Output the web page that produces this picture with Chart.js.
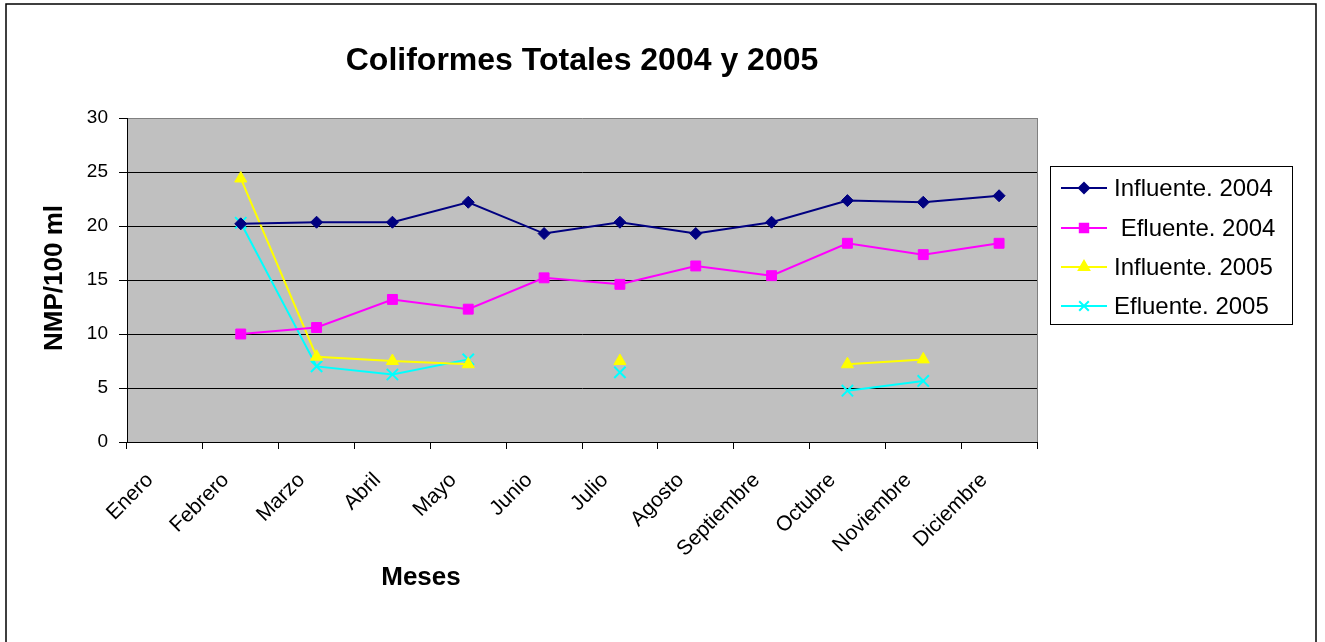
<!DOCTYPE html>
<html>
<head>
<meta charset="utf-8">
<script src="https://cdn.jsdelivr.net/npm/chart.js@4/dist/chart.umd.min.js"></script>
<style>
  html, body { margin: 0; padding: 0; background: #fff; }
  #wrap { position: relative; width: 1325px; height: 642px; }
</style>
</head>
<body>
<div id="wrap"><canvas id="chart" width="1325" height="642"></canvas></div>
<script>
// Data
const meses = ['Enero', 'Febrero', 'Marzo', 'Abril', 'Mayo', 'Junio', 'Julio',
    'Agosto', 'Septiembre', 'Octubre', 'Noviembre', 'Diciembre'];
const influente2004 = [null, 20.2, 20.35, 20.35, 22.2, 19.3, 20.35, 19.3, 20.35, 22.35, 22.2, 22.8];
const efluente2004 = [null, 10.0, 10.6, 13.2, 12.3, 15.2, 14.6, 16.3, 15.4, 18.4, 17.35, 18.4];
const influente2005 = [null, 24.4, 7.9, 7.5, 7.2, null, 7.5, null, null, 7.2, 7.65, null];
const efluente2005 = [null, 20.3, 7.0, 6.25, 7.65, null, 6.45, null, null, 4.75, 5.65, null];
const yTicks = [0, 5, 10, 15, 20, 25, 30];

const FONT = "'Liberation Sans', Arial, sans-serif";

const series = [
    { label: 'Influente. 2004', data: influente2004, color: '#000080', style: 'rectRot', radius: 6 },
    { label: ' Efluente. 2004', data: efluente2004, color: '#FF00FF', style: 'rect', radius: 7 },
    { label: 'Influente. 2005', data: influente2005, color: '#FFFF00', style: 'triangle', radius: 7 },
    { label: 'Efluente. 2005', data: efluente2005, color: '#00FFFF', style: 'crossRot', radius: 8 }
];

// Grey plot background, outer frame and hand-placed texts / legend
const decor = {
    id: 'decor',
    beforeDraw(chart) {
        const { ctx, chartArea: a } = chart;
        ctx.save();
        ctx.fillStyle = '#fff';
        ctx.fillRect(0, 0, chart.width, chart.height);
        ctx.fillStyle = '#C0C0C0';
        ctx.fillRect(a.left, a.top, a.right - a.left, a.bottom - a.top);
        ctx.restore();
    },
    afterDraw(chart) {
        const { ctx, chartArea: a } = chart;
        ctx.save();
        // plot area right border
        ctx.strokeStyle = '#808080';
        ctx.lineWidth = 1;
        ctx.beginPath();
        ctx.moveTo(a.right + 0.5, a.top);
        ctx.lineTo(a.right + 0.5, a.bottom);
        ctx.stroke();

        // outer frame
        ctx.strokeStyle = '#000';
        ctx.lineWidth = 1.5;
        ctx.beginPath();
        ctx.moveTo(6, 660);
        ctx.lineTo(6, 4);
        ctx.lineTo(1316, 4);
        ctx.lineTo(1316, 660);
        ctx.stroke();

        // title
        ctx.fillStyle = '#000';
        ctx.textAlign = 'center';
        ctx.textBaseline = 'middle';
        ctx.font = 'bold 32px ' + FONT;
        ctx.fillText('Coliformes Totales 2004 y 2005', (a.left + a.right) / 2, 61);

        // axis titles
        ctx.font = 'bold 26px ' + FONT;
        ctx.fillText('Meses', 421, 578);
        ctx.save();
        ctx.translate(55, 278);
        ctx.rotate(-Math.PI / 2);
        ctx.fillText('NMP/100 ml', 0, 0);
        ctx.restore();

        // legend
        const lx = 1050, ly = 166, lw = 242, lh = 158;
        ctx.fillStyle = '#fff';
        ctx.fillRect(lx, ly, lw, lh);
        ctx.strokeStyle = '#000';
        ctx.lineWidth = 1;
        ctx.strokeRect(lx + 0.5, ly + 0.5, lw, lh);
        const rows = [188, 228, 267, 306];
        ctx.font = '24px ' + FONT;
        ctx.textAlign = 'left';
        series.forEach((s, i) => {
            const y = rows[i];
            ctx.strokeStyle = s.color;
            ctx.lineWidth = 2;
            ctx.beginPath();
            ctx.moveTo(1061, y);
            ctx.lineTo(1107, y);
            ctx.stroke();
            ctx.fillStyle = s.color;
            Chart.helpers.drawPoint(ctx, {
                pointStyle: s.style, radius: s.radius * 0.85, rotation: 0, borderWidth: 2
            }, 1084, y);
            ctx.fillStyle = '#000';
            ctx.fillText(s.label, 1114, y + 1);
        });
        ctx.restore();
    }
};

new Chart(document.getElementById('chart'), {
    type: 'line',
    data: {
        labels: meses,
        datasets: series.map(s => ({
            label: s.label,
            data: s.data,
            borderColor: s.color,
            backgroundColor: s.color,
            borderWidth: 2,
            pointStyle: s.style,
            pointRadius: s.radius,
            pointBorderWidth: s.style === 'crossRot' ? 2 : 1,
            pointBorderColor: s.color,
            pointBackgroundColor: s.color,
            spanGaps: false,
            tension: 0
        }))
    },
    options: {
        responsive: false,
        animation: false,
        devicePixelRatio: 1,
        layout: { padding: { top: 118, right: 288, left: 0, bottom: 0 } },
        plugins: {
            legend: { display: false },
            title: { display: false },
            tooltip: { enabled: false }
        },
        scales: {
            x: {
                offset: true,
                afterFit: (scale) => { scale.height = 200; },
                grid: {
                    offset: true,
                    drawOnChartArea: false,
                    drawTicks: true,
                    tickLength: 7,
                    tickColor: '#000'
                },
                border: { display: true, color: '#000', width: 1 },
                ticks: {
                    color: '#000',
                    font: { family: FONT, size: 21 },
                    maxRotation: 45,
                    minRotation: 45,
                    autoSkip: false,
                    padding: 19,
                    labelOffset: -15
                }
            },
            y: {
                min: 0,
                max: 30,
                afterFit: (scale) => { scale.width = 127; },
                afterBuildTicks: (scale) => { scale.ticks = yTicks.map(v => ({ value: v })); },
                grid: {
                    color: (c) => c.tick && c.tick.value === 30 ? '#808080' : '#000',
                    lineWidth: 1,
                    drawTicks: true,
                    tickLength: 8,
                    tickColor: '#000'
                },
                border: { display: true, color: '#000', width: 1 },
                ticks: {
                    color: '#000',
                    font: { family: FONT, size: 19 },
                    padding: 11
                }
            }
        }
    },
    plugins: [decor]
});
</script>
</body>
</html>
